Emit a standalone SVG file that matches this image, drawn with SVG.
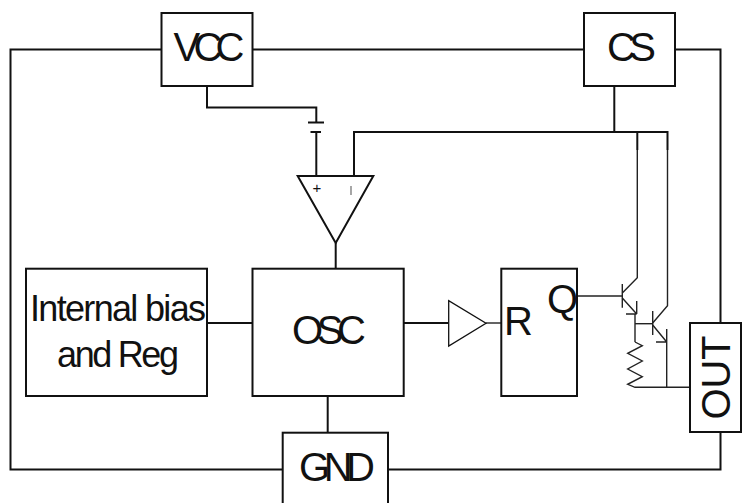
<svg xmlns="http://www.w3.org/2000/svg" width="742" height="503" viewBox="0 0 742 503">
<style>
.b{fill:#fff;stroke:#111;stroke-width:2}
.w{fill:none;stroke:#111;stroke-width:2}
.t{fill:none;stroke:#222;stroke-width:1.4}
text{font-family:"Liberation Sans",Arial,sans-serif;font-size:40px;fill:#111}
</style>
<rect width="742" height="503" fill="#fff"/>
<g id="connectors">
<path class="w" d="M161.500 49.500H10.500V469.500H282.700"/>
<path class="w" d="M252.500 49.500H584"/>
<path class="w" d="M675 49.500H720.500V323"/>
<path class="w" d="M720.500 432V469.500H388"/>
<path class="w" d="M207 86V107.500H316.300V122.500"/>
<path class="w" d="M308 122.500H324"/>
<path class="w" d="M310.500 132H321"/>
<path class="w" d="M316.300 132V176"/>
<path class="w" d="M354 176V132H667.500V150"/>
<path class="w" d="M614.300 86V132"/>
<path class="w" d="M637.300 132V150"/>
<path class="w" d="M335.700 243V268.700"/>
<path class="w" d="M207 323H252.500"/>
<path class="w" d="M403.700 323H448.700"/>
<path class="t" d="M486 323H501.300"/>
<path class="w" d="M327.700 396V432.700"/>
<path class="t" d="M577 296H622.300"/>
<path class="t" d="M637.300 150V277.700L622.300 293"/>
<path class="t" d="M622.300 284V307.700"/>
<path class="t" d="M622.300 298L636.700 314M636.700 301V314M626 314H636.700"/>
<path class="t" d="M635 314V342"/>
<path class="t" d="M635 323.700H652.700"/>
<path class="t" d="M652.700 311V335"/>
<path class="t" d="M667.500 150V305.700L652.700 323"/>
<path class="t" d="M652.700 325L666.700 342M666.700 329V387.300M656 342H666.700"/>
<path class="t" d="M635 342L642.300 345.700L627.700 353.300L642.300 361L627.700 369L642.300 376.700L627.700 384.300L635 387.300H690"/>
</g>
<g id="vcc"><rect class="b" x="161.500" y="13" width="91" height="73"/><text x="173.500" y="61" textLength="71">VCC</text></g>
<g id="cs"><rect class="b" x="584" y="13" width="91" height="73"/><text x="607" y="61" textLength="49">CS</text></g>
<g id="comparator"><path class="b" d="M297.700 176H373.300L335.700 243Z"/><text x="312.500" y="193" style="font-size:15px">+</text><path d="M351 186V195" stroke="#777" stroke-width="1.300" fill="none"/></g>
<g id="bias"><rect class="b" x="26" y="268.700" width="181" height="127.300"/><text x="30" y="321" textLength="176" style="font-size:36px">Internal bias</text><text x="57" y="367" textLength="122" style="font-size:36px">and Reg</text></g>
<g id="osc"><rect class="b" x="252.500" y="268.700" width="151.200" height="127.300"/><text x="292" y="344" textLength="74">OSC</text></g>
<g id="buffer"><path class="b" style="stroke-width:1.300" d="M448.700 300.700V346L486 323.300Z"/></g>
<g id="latch"><rect class="b" x="501.300" y="268.700" width="75.700" height="127.300"/><text x="504" y="335">R</text><text x="547" y="313">Q</text></g>
<g id="out"><rect class="b" x="690" y="323" width="51" height="109"/><text transform="translate(730 419.500) rotate(-90)" textLength="84">OUT</text></g>
<g id="gnd"><rect class="b" x="282.700" y="432.700" width="105.300" height="72"/><text x="299" y="481" textLength="76">GND</text></g>
</svg>
